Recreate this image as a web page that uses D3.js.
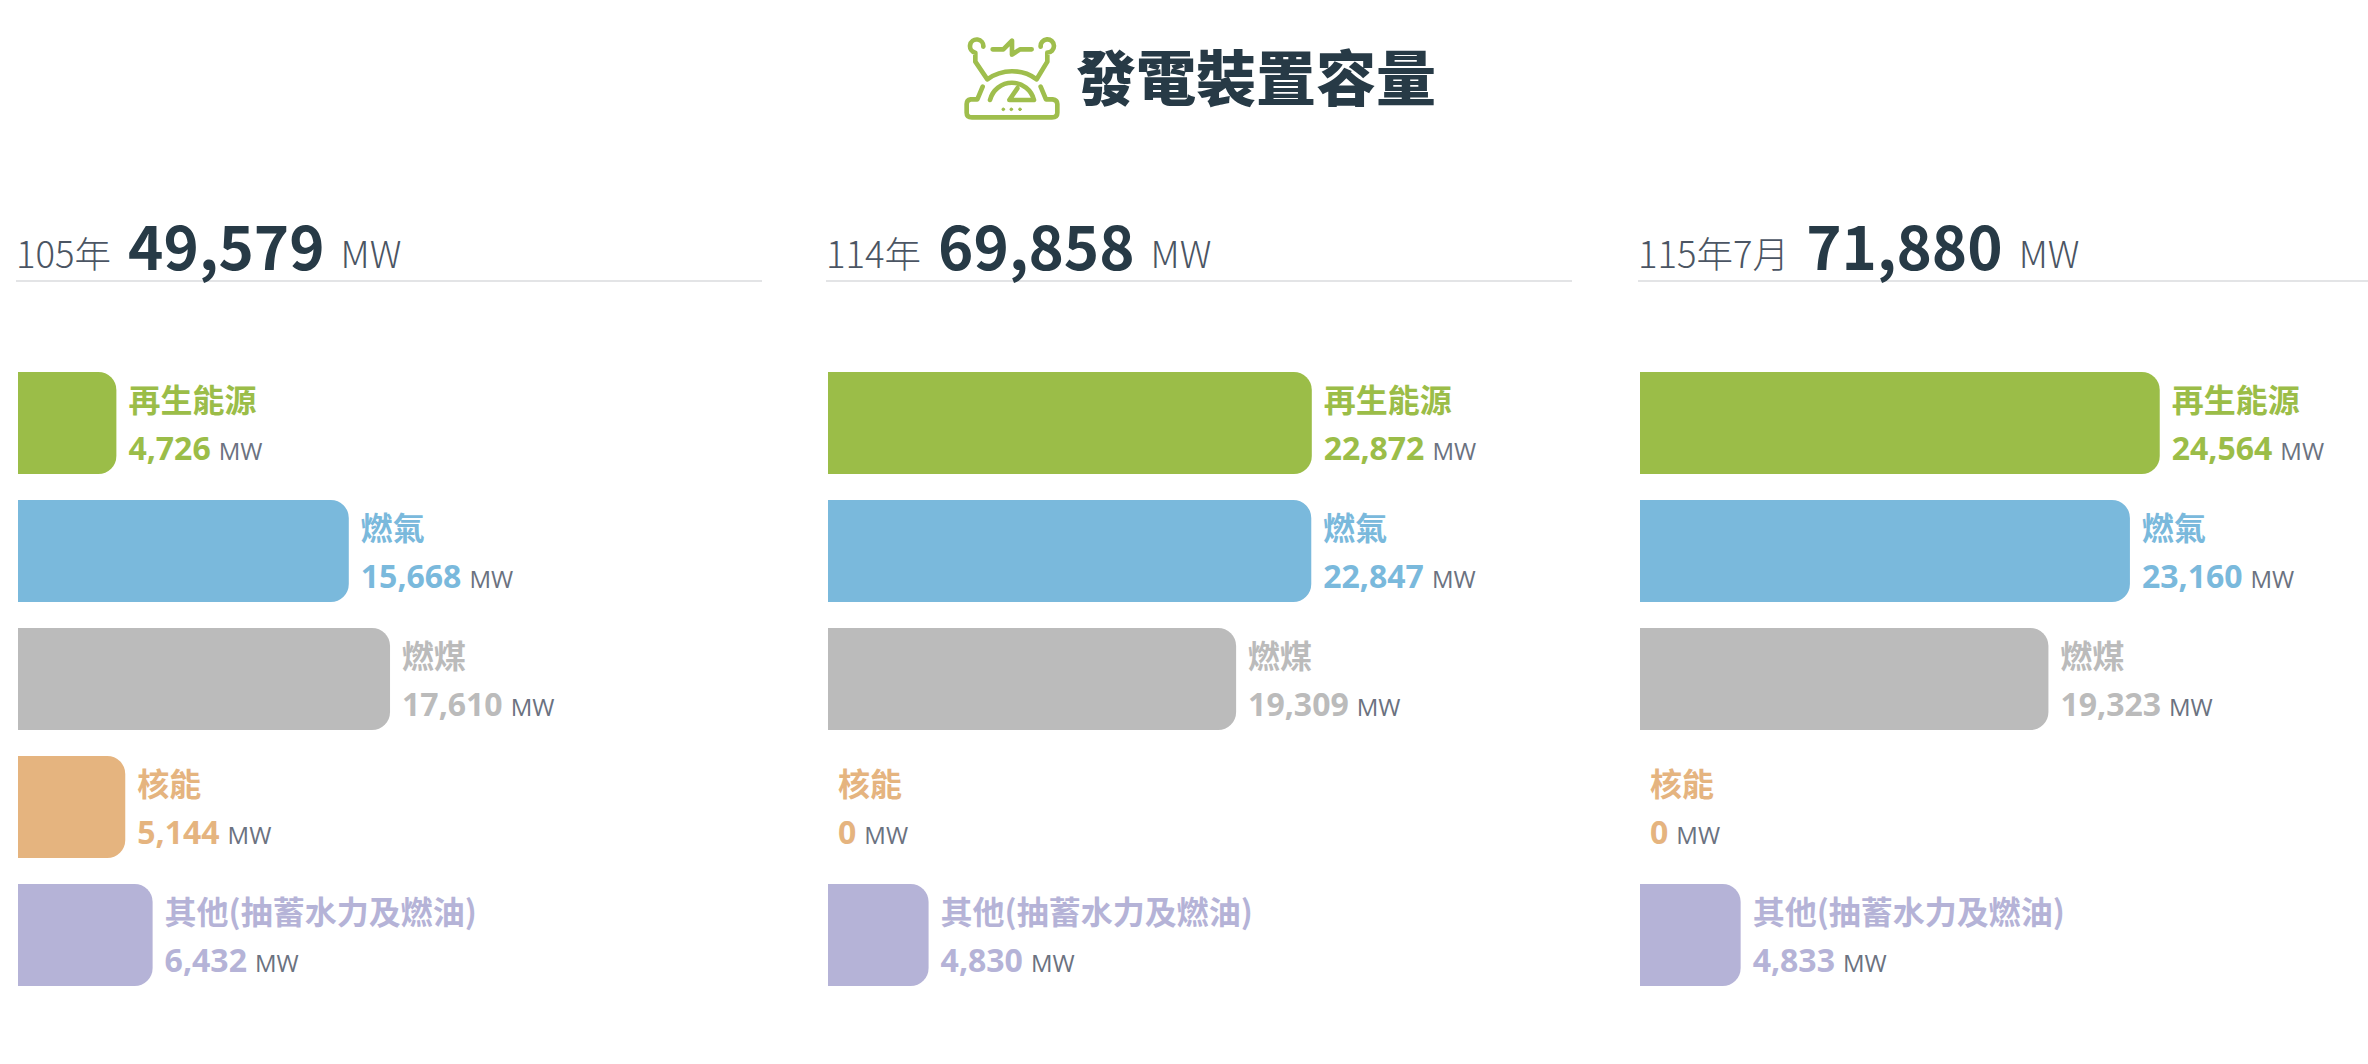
<!DOCTYPE html>
<html><head><meta charset="utf-8">
<script src="https://cdn.jsdelivr.net/npm/d3@7/dist/d3.min.js"></script>
<style>html,body{margin:0;padding:0;background:#fff;overflow:hidden}svg{display:block}</style>
</head><body><svg id="c" width="2368" height="1064"></svg>
<script>
const chartTitle = "發電裝置容量";
const categories = ["再生能源","燃氣","燃煤","核能","其他(抽蓄水力及燃油)"];
const colors = ["#9bbd48","#7ab9dc","#bbbbbb","#e5b47f","#b5b3d7"];
const periods = ["105年","114年","115年7月"];
const totals = [49579,69858,71880];
const values105 = [4726,15668,17610,5144,6432];
const values114 = [22872,22847,19309,0,4830];
const values115 = [24564,23160,19323,0,4833];
const panelValues = [values105,values114,values115];
const unit = "MW";

const svg = d3.select("#c");
const CJK = "'Noto Sans CJK TC','Noto Sans',sans-serif";
const LAT = "'Open Sans','Noto Sans',sans-serif";
const fmt = d3.format(",");
const panelX = d3.scaleOrdinal().domain(d3.range(3)).range([18,828,1640]);
const y = d3.scaleBand().domain(categories).range([372,986]).paddingInner(26/128).paddingOuter(0);
const x = d3.scaleLinear().domain([0,10000]).range([-2,210.4]);

const icon = svg.append("g").attr("transform","translate(940,20) scale(0.3333)")
  .attr("fill","none").attr("stroke","#9fbe4d").attr("stroke-width",14).attr("stroke-linecap","round").attr("stroke-linejoin","round");
icon.append("path").attr("d","M158 88 H190 L216 62 V104 L240 88 H275");
icon.append("path").attr("d","M130 80 A20 20 0 1 0 106 98 L106 125 L142 178 A125 125 0 0 1 290 178 L322 125 L322 98 A20 20 0 1 0 302 80");
icon.append("path").attr("d","M128 200 L112 238 H92 Q80 240 80 252 V278 Q80 292 96 292 H336 Q352 292 352 278 V252 Q352 240 338 238 H318 L302 200");
icon.append("path").attr("d","M150 240 A68 68 0 0 1 282 240 H208 L232 205");
icon.selectAll("circle.d").data([190,214,240]).join("circle").attr("cx",d=>d).attr("cy",268).attr("r",4).attr("stroke-width",3).attr("fill","#9fbe4d");
svg.append("text").attr("x",1076).attr("y",101).attr("font-family",CJK).attr("font-weight",900).attr("font-size",60).attr("fill","#273a46").text(chartTitle);

periods.forEach((p,i)=>{
  const g = svg.append("g").attr("transform",`translate(${panelX(i)},0)`);
  g.append("line").attr("x1",-2).attr("x2",744).attr("y1",281).attr("y2",281).attr("stroke","#e3e4e6").attr("stroke-width",2);
  const head = g.append("text").attr("x",-2).attr("y",268).attr("font-family",CJK);
  head.append("tspan").attr("font-size",36.5).attr("font-weight",300).attr("fill","#4b5563").text(p);
  head.append("tspan").attr("dx",17).attr("dy",2).attr("font-size",60).attr("font-weight",700).attr("fill","#273a46").text(fmt(totals[i]));
  head.append("tspan").attr("dx",16).attr("dy",-2).attr("font-size",37).attr("font-weight",300).attr("fill","#4b5563").text(unit);

  const rows = categories.map((c,k)=>({c,k,v:panelValues[i][k]}));
  const r = 18;
  const end = d=>d.v>0?x(d.v):0;
  g.selectAll("path.bar").data(rows.filter(d=>d.v>0)).join("path").attr("class","bar")
    .attr("fill",d=>colors[d.k])
    .attr("d",d=>{const w=x(d.v),t=y(d.c),h=y.bandwidth();
      return `M0 ${t}H${w-r}A${r} ${r} 0 0 1 ${w} ${t+r}V${t+h-r}A${r} ${r} 0 0 1 ${w-r} ${t+h}H0Z`;});
  const lab = g.selectAll("g.lab").data(rows).join("g").attr("class","lab")
    .attr("transform",d=>`translate(${end(d)+(d.v>0?12:10)},${y(d.c)})`);
  lab.append("text").attr("y",40).attr("font-family",CJK).attr("font-weight",700).attr("font-size",32).attr("fill",d=>colors[d.k]).text(d=>d.c);
  const t2 = lab.append("text").attr("y",88).attr("font-family",LAT);
  t2.append("tspan").attr("font-weight",700).attr("font-size",32).attr("fill",d=>colors[d.k]).text(d=>fmt(d.v));
  t2.append("tspan").attr("dx",8).attr("font-size",24).attr("fill","#6b7280").text(unit);
});
</script></body></html>
